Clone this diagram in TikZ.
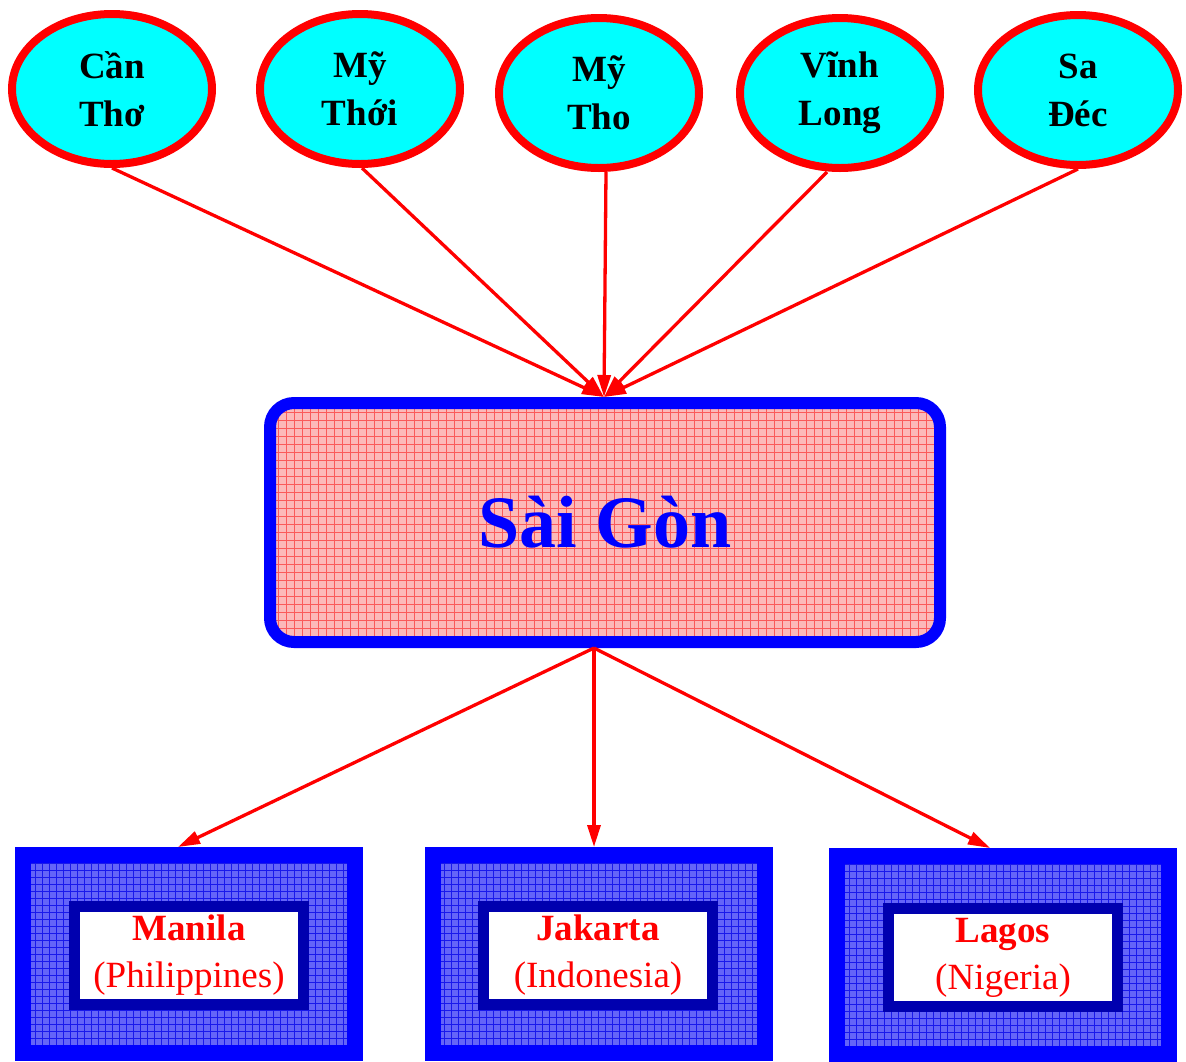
\documentclass[tikz,border=0pt]{standalone}
\usepackage{fontspec}
\setmainfont{Liberation Serif}
\usetikzlibrary{shapes.geometric,arrows.meta}
\definecolor{pinkbase}{RGB}{252,185,185}
\definecolor{pinkgrid}{RGB}{250,90,90}
\definecolor{bluebase}{RGB}{100,100,248}
\definecolor{bluegrid}{RGB}{25,25,235}
\definecolor{navy}{RGB}{0,0,175}
\definecolor{aqua}{RGB}{0,255,255}
\definecolor{pure red}{RGB}{255,0,0}
\definecolor{pure blue}{RGB}{0,0,255}
\begin{document}
\begin{tikzpicture}[x=1pt,y=-1pt,
  city/.style={ellipse, draw=pure red, line width=8pt, fill=aqua, minimum width=200pt,
    minimum height=150pt, inner sep=0pt, align=center,
    font=\fontsize{37}{48}\selectfont\bfseries},
  link/.style={draw=pure red, line width=3.3pt, -{Triangle[length=22pt,width=13pt]}},
  hub/.style={rectangle, rounded corners=24pt, draw=pure blue, line width=12pt,
    fill=pinkbase, minimum width=670pt, minimum height=239pt, text=pure blue,
    font=\fontsize{74}{80}\selectfont\bfseries,
    path picture={\draw[pinkgrid, line width=0.7pt, step=8pt]
      (path picture bounding box.south west) grid (path picture bounding box.north east);}},
  frame/.style={rectangle, draw=pure blue, line width=16pt, fill=bluebase,
    minimum width=332pt, minimum height=198pt,
    path picture={\draw[bluegrid, line width=0.9pt, step=7pt]
      (path picture bounding box.south west) grid (path picture bounding box.north east);}},
  label/.style={rectangle, draw=navy, line width=11pt, fill=white,
    minimum width=229pt, minimum height=98pt, inner sep=0pt, align=center,
    text=pure red, font=\fontsize{37}{47}\selectfont}
]
\useasboundingbox (0,0) rectangle (1186,1061);

% top cities
\node[city] (ct) at (112,89) {Cần\\Thơ};
\node[city] (mth) at (360,89) {Mỹ\\Thới};
\node[city] (mt) at (599,93) {Mỹ\\Tho};
\node[city] (vl) at (840,93) {Vĩnh\\Long};
\node[city] (sd) at (1078,90) {Sa\\Đéc};

% hub
\node[hub] (sg) at (605,522.5) {Sài Gòn};

% bottom boxes
\node[frame] (manf) at (189,954) {};
\node[label] (man) at (189,955.5) {\textbf{Manila}\\(Philippines)};
\node[frame] (jakf) at (598.5,954) {};
\node[label] (jak) at (598,955.5) {\textbf{Jakarta}\\(Indonesia)};
\node[frame] (lagf) at (1003,955) {};
\node[label] (lag) at (1003,957.5) {\textbf{Lagos}\\(Nigeria)};

% edges in
\draw[link] (ct.south) -- ([xshift=-1pt]sg.north);
\draw[link] ([xshift=2pt]mth.south) -- ([xshift=-1pt]sg.north);
\draw[link] ([xshift=7pt]mt.south) -- ([xshift=-1pt]sg.north);
\draw[link] ([xshift=-13pt]vl.south) -- ([xshift=-1pt]sg.north);
\draw[link] (sd.south) -- ([xshift=-1pt]sg.north);

% edges out
\draw[link] ([xshift=-11pt]sg.south) -- ([xshift=-11pt]manf.north);
\draw[link] ([xshift=-11pt]sg.south) -- ([xshift=-4.5pt]jakf.north);
\draw[link] ([xshift=-11pt]sg.south) -- ([xshift=-13pt]lagf.north);
\end{tikzpicture}
\end{document}
